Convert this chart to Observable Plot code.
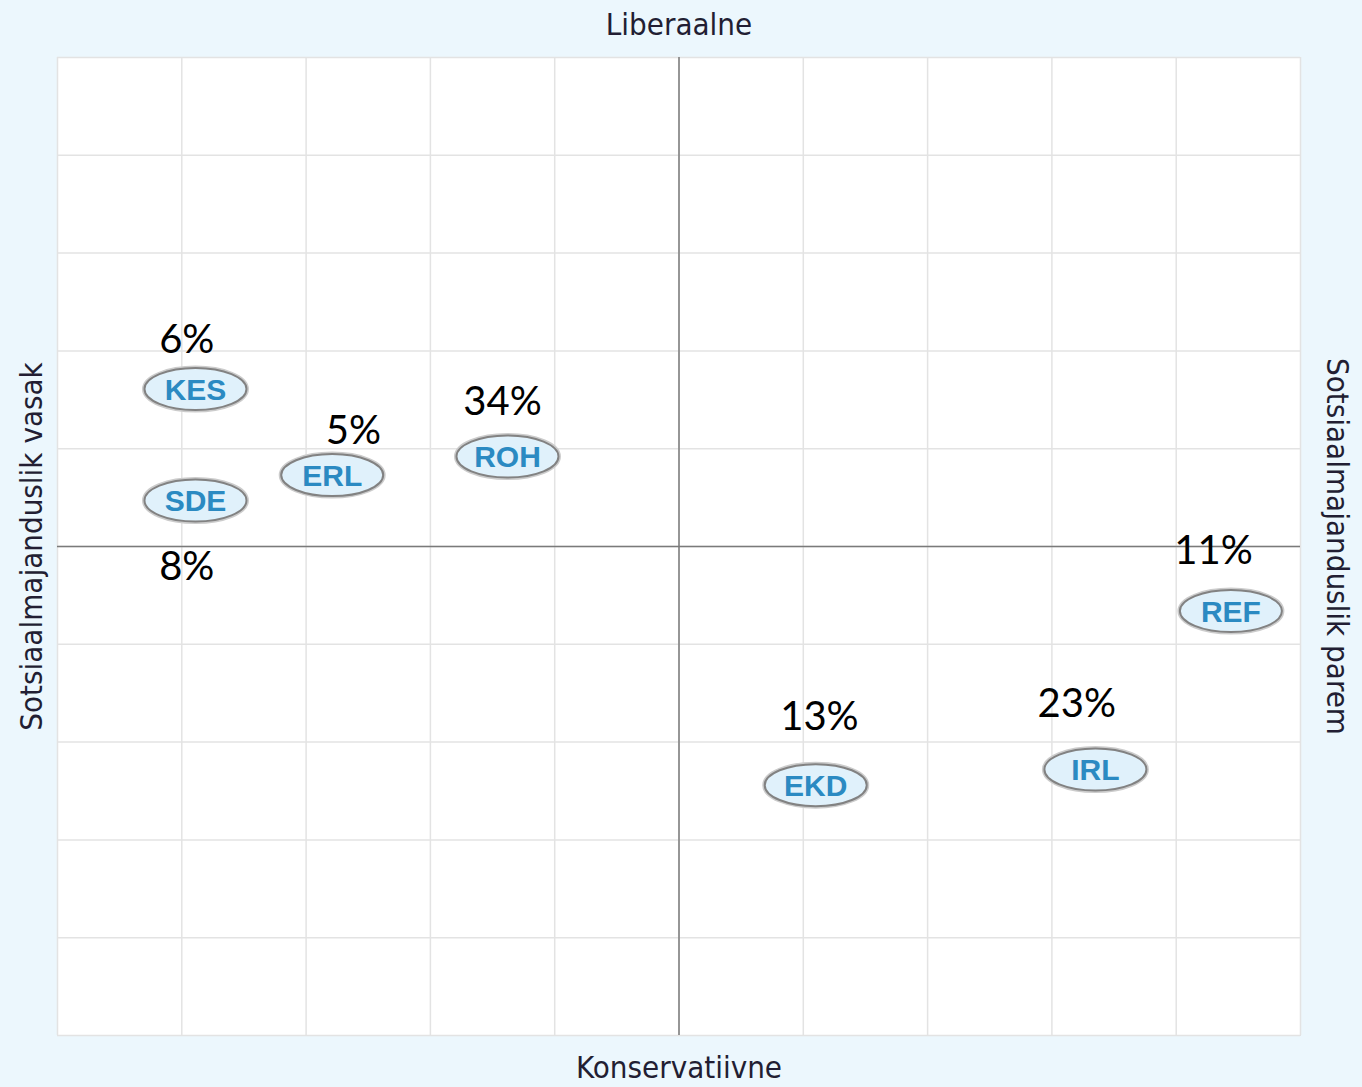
<!DOCTYPE html>
<html>
<head>
<meta charset="utf-8">
<script src="https://cdn.jsdelivr.net/npm/d3@7"></script>
<script src="https://cdn.jsdelivr.net/npm/@observablehq/plot@0.6"></script>
<style>
  html, body { margin: 0; padding: 0; background: #ecf7fd; }
  #chart { width: 1362px; height: 1087px; }
</style>
</head>
<body>
<div id="chart"></div>
<script>
// Parties (abbreviation), positions on the two axes (-5..5)
const parties = ["KES", "SDE", "ERL", "ROH", "EKD", "IRL", "REF"];
const econX   = [-3.89, -3.89, -2.79, -1.38, 1.10, 3.35, 4.44];
const socialY = [1.61, 0.47, 0.73, 0.92, -2.44, -2.28, -0.66];

// Percent labels and where they sit
const shares = ["6%", "8%", "5%", "34%", "13%", "23%", "11%"];
const shareX = [-3.96, -3.96, -2.62, -1.42, 1.13, 3.20, 4.30];
const shareY = [2.11, -0.21, 1.18, 1.48, -1.75, -1.61, -0.05];

const gridTicks = [-5, -4, -3, -2, -1, 0, 1, 2, 3, 4, 5];

const axisTop = "Liberaalne";
const axisBottom = "Konservatiivne";
const axisLeft = "Sotsiaalmajanduslik vasak";
const axisRight = "Sotsiaalmajanduslik parem";

const partyData = parties.map((p, i) => ({party: p, x: econX[i], y: socialY[i]}));
const shareData = shares.map((s, i) => ({label: s, x: shareX[i], y: shareY[i]}));

// ellipse symbol (fixed radii) drawn with bezier curves
function ellipseSymbol(rx, ry) {
  const k = 0.5522847498;
  return {
    draw(ctx) {
      ctx.moveTo(rx, 0);
      ctx.bezierCurveTo(rx, ry * k, rx * k, ry, 0, ry);
      ctx.bezierCurveTo(-rx * k, ry, -rx, ry * k, -rx, 0);
      ctx.bezierCurveTo(-rx, -ry * k, -rx * k, -ry, 0, -ry);
      ctx.bezierCurveTo(rx * k, -ry, rx, -ry * k, rx, 0);
      ctx.closePath();
    }
  };
}
const ell = ellipseSymbol(51, 21);
const titleFont = "'DejaVu Sans Condensed', 'DejaVu Sans', sans-serif";
const titleColor = "#221e33";

const chart = Plot.plot({
  width: 1362,
  height: 1087,
  marginLeft: 57,
  marginRight: 62,
  marginTop: 57,
  marginBottom: 52,
  style: {background: "transparent", overflow: "visible"},
  x: {domain: [-5, 5], axis: null},
  y: {domain: [-5, 5], axis: null},
  marks: [
    Plot.frame({fill: "white", stroke: "#e2e2e2"}),
    Plot.ruleX(gridTicks, {stroke: "#e3e3e3", strokeWidth: 1.5}),
    Plot.ruleY(gridTicks, {stroke: "#e3e3e3", strokeWidth: 1.5}),
    Plot.ruleX([0], {stroke: "#7a7a7a", strokeWidth: 1.5}),
    Plot.ruleY([0], {stroke: "#7a7a7a", strokeWidth: 1.5}),
    // soft outer ring
    Plot.dot(partyData, {x: "x", y: "y", symbol: ell, r: 1, fill: "none", stroke: "#cccccc", strokeWidth: 5}),
    Plot.dot(partyData, {x: "x", y: "y", symbol: ell, r: 1, fill: "#e0f1fb", stroke: "#828282", strokeWidth: 2}),
    Plot.text(partyData, {x: "x", y: "y", text: "party", fill: "#2b8ac2", fontSize: 30, fontWeight: "bold",
      fontFamily: "Liberation Sans, Arial, sans-serif", textAnchor: "middle", lineAnchor: "middle", dy: 1}),
    Plot.text(shareData, {x: "x", y: "y", text: "label", fill: "#000", fontSize: 40,
      fontFamily: "Lato, 'Open Sans', sans-serif", textAnchor: "middle", lineAnchor: "middle"}),
    Plot.text([axisTop], {frameAnchor: "top", dy: -32, fill: titleColor, fontSize: 31,
      fontFamily: titleFont, textAnchor: "middle", lineAnchor: "middle"}),
    Plot.text([axisBottom], {frameAnchor: "bottom", dy: 33, fill: titleColor, fontSize: 31,
      fontFamily: titleFont, textAnchor: "middle", lineAnchor: "middle"}),
    Plot.text([axisLeft], {frameAnchor: "left", dx: -25, rotate: -90, fill: titleColor, fontSize: 31,
      fontFamily: titleFont, textAnchor: "middle", lineAnchor: "middle"}),
    Plot.text([axisRight], {frameAnchor: "right", dx: 36, rotate: 90, fill: titleColor, fontSize: 31,
      fontFamily: titleFont, textAnchor: "middle", lineAnchor: "middle"})
  ]
});
document.getElementById("chart").appendChild(chart);
</script>
</body>
</html>
